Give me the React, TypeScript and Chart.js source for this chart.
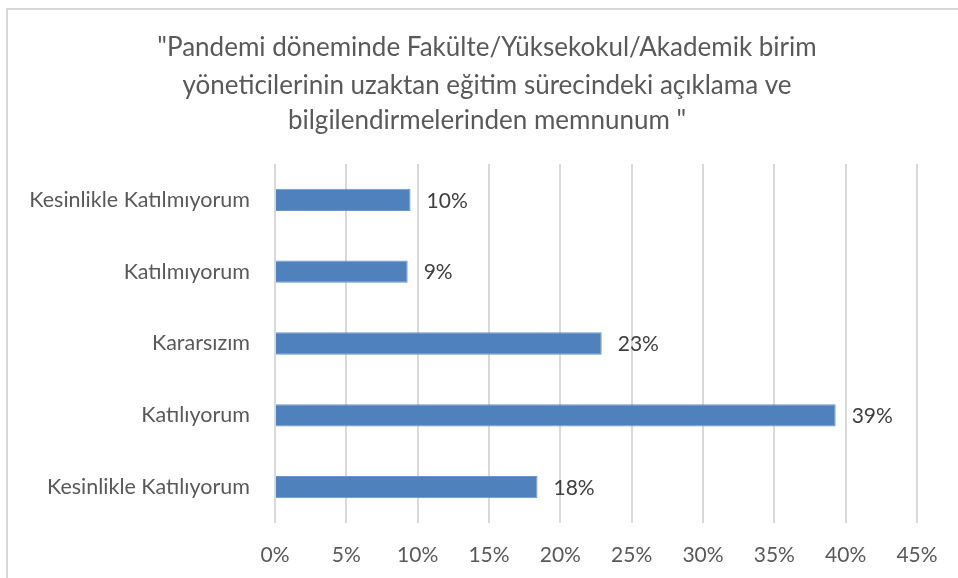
import React, { useEffect, useRef } from "react";
import { Chart, registerables } from "chart.js";

Chart.register(...registerables);

const titleLines = [
  "\"Pandemi döneminde Fakülte/Yüksekokul/Akademik birim",
  "yöneticilerinin uzaktan eğitim sürecindeki açıklama ve",
  "bilgilendirmelerinden memnunum \"",
];
const categories = [
  "Kesinlikle Katılmıyorum",
  "Katılmıyorum",
  "Kararsızım",
  "Katılıyorum",
  "Kesinlikle Katılıyorum",
];
const values = [9.5, 9.3, 22.9, 39.3, 18.4];
const valueLabels = ["10%", "9%", "23%", "39%", "18%"];

const FONT = "Lato, 'Open Sans', sans-serif";

export default function App() {
  const ref = useRef<HTMLCanvasElement | null>(null);
  useEffect(() => {
    if (!ref.current) return;
    const titlePlugin = {
      id: "customTitle",
      afterDraw(chart: any) {
        const ctx = chart.ctx;
        ctx.save();
        ctx.fillStyle = "#595959";
        ctx.font = `26px ${FONT}`;
        ctx.textAlign = "center";
        ctx.textBaseline = "middle";
        const ys = [48, 86, 121];
        titleLines.forEach((l, i) => ctx.fillText(l, 487, ys[i]));
        ctx.restore();
      },
    };
    const labelPlugin = {
      id: "valueLabels",
      afterDatasetsDraw(chart: any) {
        const ctx = chart.ctx;
        const meta = chart.getDatasetMeta(0);
        ctx.save();
        ctx.fillStyle = "#404040";
        ctx.font = `21px ${FONT}`;
        ctx.textAlign = "left";
        ctx.textBaseline = "middle";
        meta.data.forEach((el: any, i: number) => {
          ctx.fillText(valueLabels[i], el.x + 16, el.y + 1);
        });
        ctx.restore();
      },
    };
    const chart = new Chart(ref.current, {
      type: "bar",
      data: {
        labels: categories,
        datasets: [
          {
            data: values,
            backgroundColor: "#4f81bd",
            borderColor: "#6b96cc",
            borderWidth: 1,
            barPercentage: 0.31,
            categoryPercentage: 1,
          },
        ],
      },
      options: {
        indexAxis: "y",
        animation: false,
        responsive: false,
        layout: { padding: { top: 164, right: 41, left: 0, bottom: 0 } },
        plugins: {
          legend: { display: false },
          title: { display: false },
          tooltip: { enabled: false },
        },
        scales: {
          x: {
            min: 0,
            max: 45,
            ticks: {
              stepSize: 5,
              color: "#595959",
              font: { family: FONT, size: 21 },
              padding: 20,
              callback: (v: any) => `${v}%`,
            },
            grid: { color: "#d9d9d9", lineWidth: 2, drawTicks: false },
            border: { display: false },
            afterFit: (s: any) => {
              s.height = 578 - 523;
            },
          },
          y: {
            ticks: {
              color: "#595959",
              font: { family: FONT, size: 21.5 },
              padding: 17,
            },
            grid: { display: false },
            border: { display: false },
            afterFit: (s: any) => {
              s.width = 275;
            },
          },
        },
      },
      plugins: [titlePlugin, labelPlugin],
    });
    return () => chart.destroy();
  }, []);
  return (
    <div style={{ position: "fixed", left: 0, top: 0, width: 958, height: 578, background: "#fff" }}>
      <div
        style={{
          position: "absolute",
          left: 6,
          top: 8,
          right: 0,
          bottom: 0,
          borderTop: "2px solid #d9d9d9",
          borderLeft: "2px solid #d9d9d9",
        }}
      />
      <canvas ref={ref} width={958} height={578} style={{ position: "absolute", left: 0, top: 0 }} />
    </div>
  );
}
